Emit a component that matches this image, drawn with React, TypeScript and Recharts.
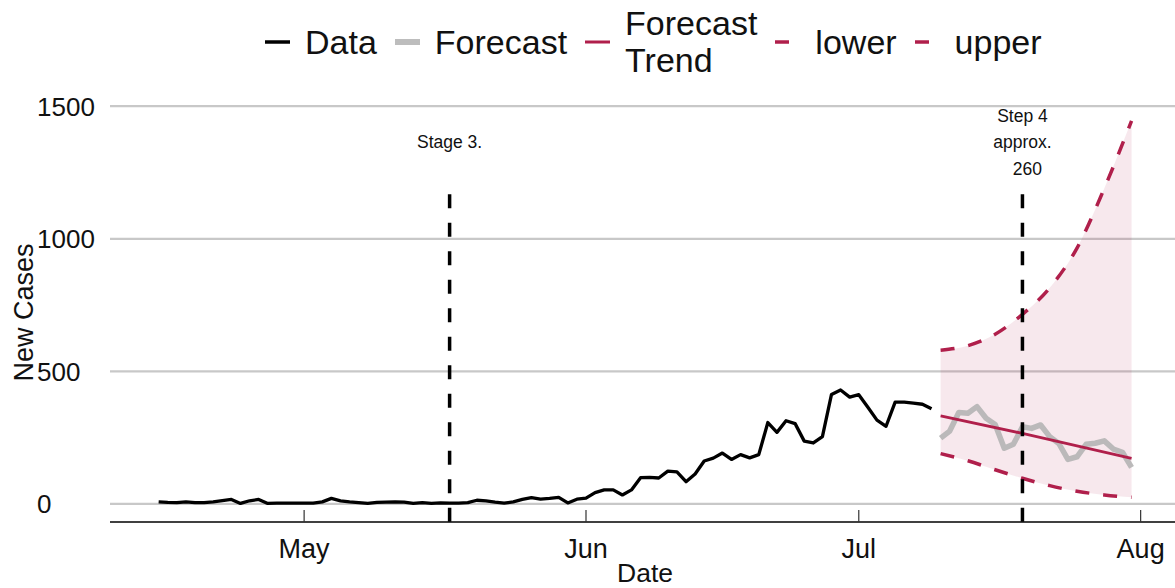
import React from 'react';
import {
  ComposedChart,
  Line,
  Area,
  XAxis,
  YAxis,
  CartesianGrid,
  ReferenceLine,
} from 'recharts';

const FONT = '"Liberation Sans", Arial, Helvetica, sans-serif';
const CRIMSON = '#b01f4b';
const INK = '#111111';

// All x positions are days counted from 1 May.
const DATA_START_DAY = -16; // 15 April

// Daily new cases, 15 April .. 9 July
const dailyCases = [
  8, 6, 5, 8, 5, 5, 8, 13, 17, 2, 12, 17, 2, 3, 3, 3,
  3, 3, 8, 21, 12, 8, 5, 2, 6, 7, 8, 7, 2, 5, 2, 4,
  3, 3, 5, 14, 12, 7, 3, 8, 17, 24, 18, 21, 25, 4, 18,
  22, 43, 53, 53, 34, 53, 99, 100, 98, 124, 121, 84, 113, 162, 173,
  192, 168, 186, 174, 186, 307, 270, 314, 303, 237, 230, 254, 413, 430, 403,
  412, 365, 316, 293, 384, 384, 380, 376, 359,
];

// Simulated forecast, 10 July .. 31 July
const FORECAST_START_DAY = 70;
const forecastCases = [
  248, 275, 345, 342, 367, 323, 300, 210, 225, 291, 285,
  298, 254, 228, 168, 178, 225, 229, 238, 207, 195, 138,
];

// Forecast trend
const trendDays = [70, 79, 91];
const trendValues = [332, 266, 172];

// Forecast interval
const bandDays = [70, 73, 76, 79, 82, 85, 88, 91];
const lowerValues = [190, 163, 129, 97, 69, 48, 34, 25];
const upperValues = [580, 597, 640, 715, 815, 965, 1190, 1445];

// Event markers
const eventDays = [16, 79];
const eventLabels = ['Stage 3.', 'Step 4\napprox.\n  260'];
const EVENT_TOP = 1168;

// Axes
const monthTicks = [0, 31, 61, 92];
const monthLabels = ['May', 'Jun', 'Jul', 'Aug'];
const caseTicks = [0, 500, 1000, 1500];
const X_DOMAIN: [number, number] = [-21.35, 96.35];
const Y_DOMAIN: [number, number] = [-68, 1512];

const legendLabels = ['Data', 'Forecast', 'Forecast\nTrend', 'lower', 'upper'];

const observed = dailyCases.map((v, i) => ({ day: DATA_START_DAY + i, cases: v }));
const forecast = forecastCases.map((v, i) => ({ day: FORECAST_START_DAY + i, cases: v }));
const trend = trendDays.map((d, i) => ({ day: d, cases: trendValues[i] }));
const band = bandDays.map((d, i) => ({ day: d, lo: lowerValues[i], hi: upperValues[i] }));

function XTick(props: any) {
  const { x, y, payload } = props;
  const idx = monthTicks.indexOf(payload.value);
  return (
    <g>
      <line x1={x} x2={x} y1={y} y2={y - 12} stroke="#333" strokeWidth={1.2} />
      <text x={x} y={y + 36} textAnchor="middle" fontSize={27} fill={INK} fontFamily={FONT}>
        {monthLabels[idx]}
      </text>
    </g>
  );
}

function YTick(props: any) {
  const { x, y, payload } = props;
  return (
    <text x={x} y={y} dy="0.36em" textAnchor="start" fontSize={26} fill={INK} fontFamily={FONT}>
      {payload.value}
    </text>
  );
}

function YTitle(props: any) {
  const vb = props.viewBox || { x: 0, y: 103, width: 110, height: 419 };
  const cx = vb.x + 23;
  const cy = vb.y + vb.height / 2;
  return (
    <text
      x={cx}
      y={cy}
      dy="0.36em"
      textAnchor="middle"
      transform={`rotate(-90, ${cx}, ${cy})`}
      fontSize={27}
      fill={INK}
      fontFamily={FONT}
    >
      New Cases
    </text>
  );
}

function XTitle(props: any) {
  const vb = props.viewBox || { x: 110, y: 522, width: 1070, height: 66 };
  return (
    <text x={vb.x + vb.width / 2} y={vb.y + 60} textAnchor="middle" fontSize={26.5} fill={INK} fontFamily={FONT}>
      Date
    </text>
  );
}

function EventLabel(props: any) {
  const { viewBox, text } = props;
  if (!viewBox) return null;
  const lines: string[] = text.split('\n');
  const cx = viewBox.x;
  const mid = viewBox.y - 46;
  const step = 26.5;
  return (
    <text textAnchor="middle" fontSize={17.5} fill={INK} fontFamily={FONT} style={{ whiteSpace: 'pre' }}>
      {lines.map((ln, i) => (
        <tspan key={i} x={cx} y={mid + (i - (lines.length - 1) / 2) * step}>
          {ln}
        </tspan>
      ))}
    </text>
  );
}

const legendKeys = [
  { color: '#000', width: 3.5, dash: undefined as string | undefined, len: 25 },
  { color: '#bdbdbd', width: 6, dash: undefined, len: 25 },
  { color: CRIMSON, width: 3, dash: undefined, len: 25 },
  { color: CRIMSON, width: 3.5, dash: '14 14', len: 25 },
  { color: CRIMSON, width: 3.5, dash: '14 14', len: 25 },
];

function ChartLegend() {
  return (
    <div
      style={{
        position: 'absolute',
        left: 265,
        top: 0,
        height: 84,
        display: 'flex',
        alignItems: 'center',
        fontFamily: FONT,
        fontSize: 34,
        color: INK,
      }}
    >
      {legendLabels.map((label, i) => {
        const k = legendKeys[i];
        return (
          <div key={label} style={{ display: 'flex', alignItems: 'center', marginRight: 18 }}>
            <svg width={k.len} height={12} style={{ display: 'block' }}>
              <line x1={0} x2={k.len} y1={6} y2={6} stroke={k.color} strokeWidth={k.width} strokeDasharray={k.dash} />
            </svg>
            <div style={{ marginLeft: 15, lineHeight: '37px', whiteSpace: 'pre' }}>{label}</div>
          </div>
        );
      })}
    </div>
  );
}

export default function App() {
  return (
    <div
      style={{
        position: 'fixed',
        left: 0,
        top: 0,
        width: 1175,
        height: 588,
        overflow: 'hidden',
        background: '#fff',
        fontFamily: FONT,
      }}
    >
      <ComposedChart
        width={1195}
        height={588}
        margin={{ top: 103, right: 14.8, bottom: 0, left: 0 }}
      >
        <CartesianGrid vertical={false} syncWithTicks stroke="#c8c8c8" strokeWidth={2.2} />
        <XAxis
          type="number"
          dataKey="day"
          domain={X_DOMAIN}
          ticks={monthTicks}
          interval={0}
          allowDataOverflow
          height={66}
          tickSize={0}
          tickMargin={0}
          tickLine={false}
          axisLine={{ stroke: '#000', strokeWidth: 1.6 }}
          tick={<XTick />}
          label={<XTitle />}
        />
        <YAxis
          type="number"
          domain={Y_DOMAIN}
          ticks={caseTicks}
          interval={0}
          allowDataOverflow
          width={110}
          tickSize={0}
          tickMargin={73}
          tickLine={false}
          axisLine={false}
          tick={<YTick />}
          label={<YTitle />}
        />
        <Area
          data={band}
          dataKey={(p: any) => [p.lo, p.hi]}
          type="monotone"
          stroke="none"
          fill={CRIMSON}
          fillOpacity={0.1}
          isAnimationActive={false}
          activeDot={false}
        />
        <Line
          data={observed}
          dataKey="cases"
          type="linear"
          stroke="#000"
          strokeWidth={3.3}
          strokeLinejoin="round"
          dot={false}
          activeDot={false}
          isAnimationActive={false}
        />
        <Line
          data={forecast}
          dataKey="cases"
          type="linear"
          stroke="#b4b4b4"
          strokeOpacity={0.9}
          strokeWidth={5.5}
          strokeLinejoin="round"
          dot={false}
          activeDot={false}
          isAnimationActive={false}
        />
        <Line
          data={trend}
          dataKey="cases"
          type="linear"
          stroke={CRIMSON}
          strokeWidth={2.8}
          dot={false}
          activeDot={false}
          isAnimationActive={false}
        />
        <Line
          data={band}
          dataKey="lo"
          type="monotone"
          stroke={CRIMSON}
          strokeWidth={3.5}
          strokeDasharray="14 14"
          dot={false}
          activeDot={false}
          isAnimationActive={false}
        />
        <Line
          data={band}
          dataKey="hi"
          type="monotone"
          stroke={CRIMSON}
          strokeWidth={3.5}
          strokeDasharray="14 14"
          dot={false}
          activeDot={false}
          isAnimationActive={false}
        />
        {eventDays.map((d, i) => (
          <ReferenceLine
            key={d}
            segment={[
              { x: d, y: EVENT_TOP },
              { x: d, y: Y_DOMAIN[0] },
            ]}
            stroke="#000"
            strokeWidth={3.5}
            strokeDasharray="14 14.5"
            ifOverflow="visible"
            label={<EventLabel text={eventLabels[i]} />}
          />
        ))}
      </ComposedChart>
      <ChartLegend />
    </div>
  );
}
